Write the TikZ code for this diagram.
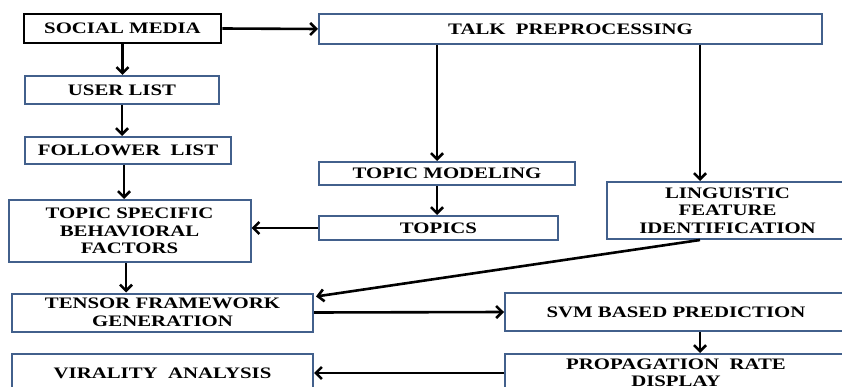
\documentclass[tikz,border=0pt]{standalone}
\usepackage{fontspec}
\newfontfamily\boxfont{Liberation Serif}[FakeStretch=1.3]
\usetikzlibrary{arrows.meta}
\definecolor{boxline}{RGB}{66,96,140}
\begin{document}
\begin{tikzpicture}[x=1pt,y=-1pt,
  box/.style={draw=boxline,line width=2pt,align=center,inner sep=0pt,
    font=\boxfont\bfseries\fontsize{16}{17.5}\selectfont},
  arr/.style={line width=2.6pt,-{Straight Barb[length=6pt,width=12pt]}}]
  \clip (0,0) rectangle (842,387);
  \node[box,draw=black,line width=2.6pt,minimum width=197pt,minimum height=29pt] (soc) at (122.5,28.5) {SOCIAL MEDIA};
  \node[box,minimum width=503pt,minimum height=30pt] (talk) at (570.5,29) {TALK\ \ PREPROCESSING};
  \node[box,minimum width=194pt,minimum height=28pt] (user) at (122,90) {USER LIST};
  \node[box,minimum width=206pt,minimum height=27pt] (foll) at (128,150.5) {FOLLOWER\ \ LIST};
  \node[box,minimum width=256pt,minimum height=23pt] (tmod) at (447,173.5) {TOPIC MODELING};
  \node[box,minimum width=241pt,minimum height=57pt] (ling) at (727.5,210.5) {LINGUISTIC\\FEATURE\\IDENTIFICATION};
  \node[box,minimum width=239pt,minimum height=24pt] (topics) at (438.5,228) {TOPICS};
  \node[box,minimum width=242pt,minimum height=62pt] (tsbf) at (129.5,231) {TOPIC SPECIFIC\\BEHAVIORAL\\FACTORS};
  \node[box,minimum width=301pt,minimum height=38pt] (tens) at (162.5,312.5) {TENSOR FRAMEWORK\\GENERATION};
  \node[box,minimum width=342pt,minimum height=38pt] (svm) at (676,312) {SVM BASED PREDICTION};
  \node[box,minimum width=342pt,minimum height=38pt] (prop) at (676,373) {PROPAGATION\ \ RATE\\DISPLAY};
  \node[box,minimum width=301pt,minimum height=38pt] (vir) at (162.5,373) {VIRALITY\ \ ANALYSIS};
  \draw[arr] (soc.east) -- (talk.west);
  \draw[arr] (soc.south) -- (soc.south |- user.north);
  \draw[arr] (user.south) -- (user.south |- foll.north);
  \draw[arr] (foll.south -| 124,0) -- (tsbf.north -| 124,0);
  \draw[arr] (talk.south -| 437,0) -- (tmod.north -| 437,0);
  \draw[arr] (talk.south -| 700,0) -- (ling.north -| 700,0);
  \draw[arr] (tmod.south -| 437,0) -- (topics.north -| 437,0);
  \draw[arr] (topics.west) -- (topics.west -| tsbf.east);
  \draw[arr] (tsbf.south -| 126,0) -- (tens.north -| 126,0);
  \draw[arr] (ling.south -| 700,0) -- ([xshift=2pt,yshift=-4pt]tens.north east);
  \draw[arr] (tens.east) -- (svm.west);
  \draw[arr] (svm.south -| 700,0) -- (prop.north -| 700,0);
  \draw[arr] (vir.east -| prop.west) -- (vir.east);
\end{tikzpicture}
\end{document}
